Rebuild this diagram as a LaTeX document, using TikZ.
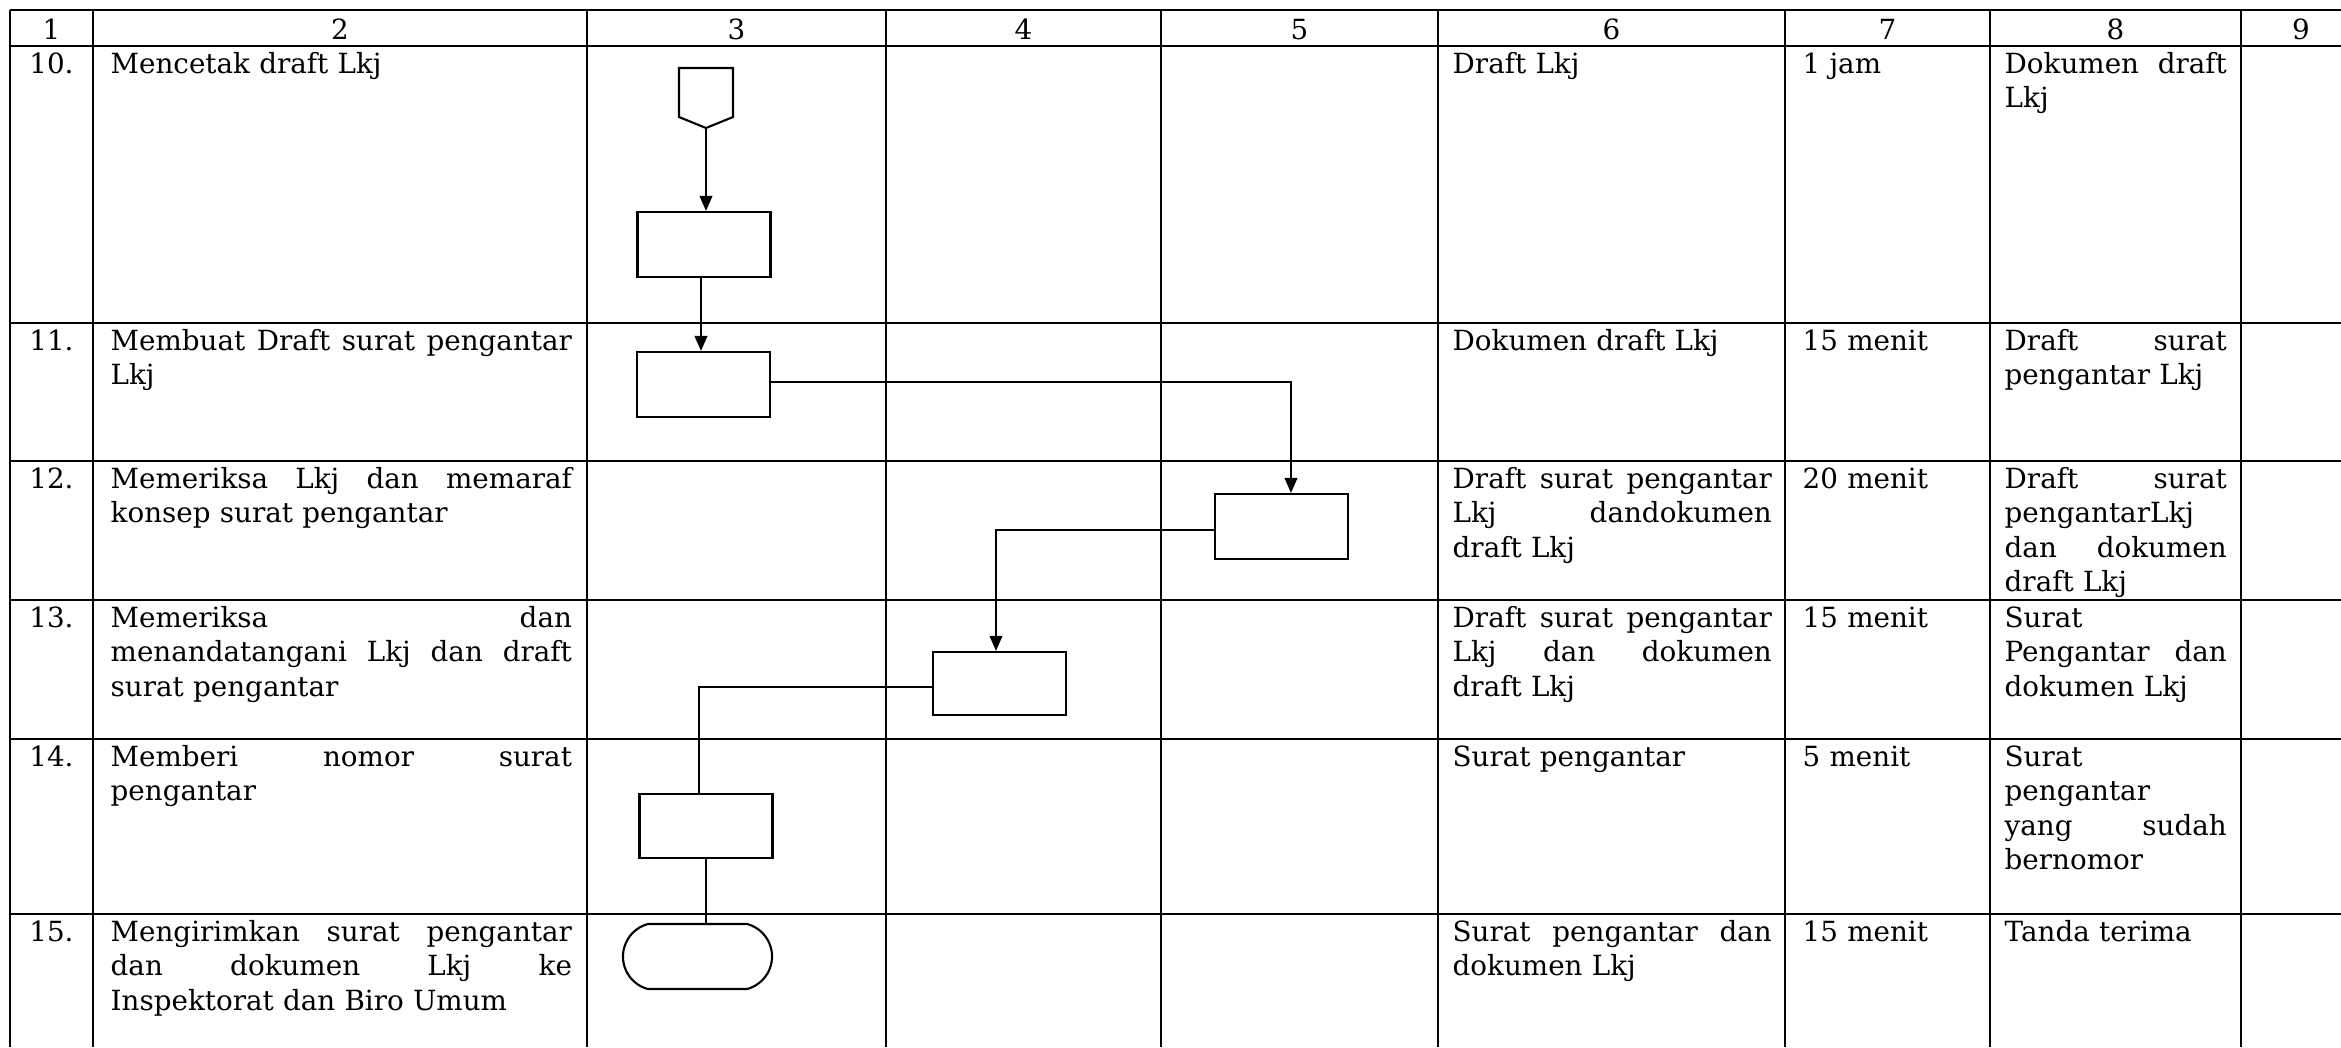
\documentclass[tikz,border=0pt]{standalone}
\usepackage{fontspec}
\setmainfont{DejaVu Serif}
\usetikzlibrary{arrows.meta,shapes.misc}
\newcommand\fs{\fontsize{7.9pt}{9.82pt}\selectfont}
\newcommand\jl[2]{\makebox[#1][s]{#2}}
\newcommand\ja[1]{\jl{4.61cm}{#1}}
\newcommand\jf[1]{\jl{3.19cm}{#1}}
\newcommand\jh[1]{\jl{2.22cm}{#1}}
\newcommand\wsp{ \hfill}
\begin{document}
\begin{tikzpicture}[x=0.01cm,y=-0.01cm,
  grid/.style={line width=0.6pt},
  flow/.style={line width=0.6pt},
  proc/.style={draw, flow, minimum width=1.33cm, minimum height=0.65cm, inner sep=0pt},
  arr/.style={flow, -{Triangle[length=4.3pt,width=3.6pt]}},
  cell/.style={anchor=base west, inner sep=0pt, align=left, font=\fs},
  num/.style={anchor=base, inner sep=0pt, font=\fs}]
\useasboundingbox (0,0) rectangle (2341,1047);
\fill[white] (0,0) rectangle (2341,1047);
% table grid
\foreach \y in {10,46,323,461,600,739,914} \draw[grid] (10,\y) -- (2341,\y);
\foreach \x in {10,93,587,886,1161,1438,1785,1990,2241} \draw[grid] (\x,10) -- (\x,1047);
% header
\node[num] (h1) at (51.5,39) {1};
\node[num] (h2) at (340,39) {2};
\node[num] (h3) at (736.5,39) {3};
\node[num] (h4) at (1023.5,39) {4};
\node[num] (h5) at (1299.5,39) {5};
\node[num] (h6) at (1611.5,39) {6};
\node[num] (h7) at (1887.5,39) {7};
\node[num] (h8) at (2115.5,39) {8};
\node[num] (h9) at (2301,39) {9};
% row numbers
\node[num] (n10) at (51.5,73) {10.};
\node[num] (n11) at (51.5,350) {11.};
\node[num] (n12) at (51.5,488) {12.};
\node[num] (n13) at (51.5,627) {13.};
\node[num] (n14) at (51.5,766) {14.};
\node[num] (n15) at (51.5,941) {15.};
% column 2
\node[cell, text width=4.61cm] (a10) at (110,73) {Mencetak draft Lkj};
\node[cell, text width=4.61cm] (a11) at (110,350) {\ja{Membuat\wsp Draft\wsp surat\wsp pengantar}\\Lkj};
\node[cell, text width=4.61cm] (a12) at (110,488) {\ja{Memeriksa\wsp Lkj\wsp dan\wsp memaraf}\\konsep surat pengantar};
\node[cell, text width=4.61cm] (a13) at (110,627) {\ja{Memeriksa\wsp dan}\\\ja{menandatangani\wsp Lkj\wsp dan\wsp draft}\\surat pengantar};
\node[cell, text width=4.61cm] (a14) at (110,766) {\ja{Memberi\wsp nomor\wsp surat}\\pengantar};
\node[cell, text width=4.61cm] (a15) at (110,941) {\ja{Mengirimkan\wsp surat\wsp pengantar}\\\ja{dan\wsp dokumen\wsp Lkj\wsp ke}\\Inspektorat dan Biro Umum};
% column 6
\node[cell, text width=3.19cm] (f10) at (1452,73) {Draft Lkj};
\node[cell, text width=3.19cm] (f11) at (1452,350) {Dokumen draft Lkj};
\node[cell, text width=3.19cm] (f12) at (1452,488) {\jf{Draft\wsp surat\wsp pengantar}\\\jf{Lkj\wsp dandokumen}\\draft Lkj};
\node[cell, text width=3.19cm] (f13) at (1452,627) {\jf{Draft\wsp surat\wsp pengantar}\\\jf{Lkj\wsp dan\wsp dokumen}\\draft Lkj};
\node[cell, text width=3.19cm] (f14) at (1452,766) {Surat pengantar};
\node[cell, text width=3.19cm] (f15) at (1452,941) {\jf{Surat\wsp pengantar\wsp dan}\\dokumen Lkj};
% column 7
\node[cell, text width=1.8cm] (g10) at (1802,73) {1 jam};
\node[cell, text width=1.8cm] (g11) at (1802,350) {15 menit};
\node[cell, text width=1.8cm] (g12) at (1802,488) {20 menit};
\node[cell, text width=1.8cm] (g13) at (1802,627) {15 menit};
\node[cell, text width=1.8cm] (g14) at (1802,766) {5 menit};
\node[cell, text width=1.8cm] (g15) at (1802,941) {15 menit};
% column 8
\node[cell, text width=2.22cm] (k10) at (2004,73) {\jh{Dokumen\wsp draft}\\Lkj};
\node[cell, text width=2.22cm] (k11) at (2004,350) {\jh{Draft\wsp surat}\\pengantar Lkj};
\node[cell, text width=2.22cm] (k12) at (2004,488) {\jh{Draft\wsp surat}\\pengantarLkj\\\jh{dan\wsp dokumen}\\draft Lkj};
\node[cell, text width=2.22cm] (k13) at (2004,627) {Surat\\\jh{Pengantar\wsp dan}\\dokumen Lkj};
\node[cell, text width=2.22cm] (k14) at (2004,766) {Surat\\pengantar\\\jh{yang\wsp sudah}\\bernomor};
\node[cell, text width=2.22cm] (k15) at (2004,941) {Tanda terima};
% flowchart
\draw[flow, line join=miter] (679,68) -- (733,68) -- (733,117) -- (706,128) -- (679,117) -- cycle;
\coordinate (optip) at (706,128);
\node[proc] (b1) at (704,244.5) {};
\node[proc] (b2) at (703.5,384.5) {};
\node[proc] (b3) at (1281.5,526.5) {};
\node[proc, minimum height=0.63cm] (b4) at (999.5,683.5) {};
\node[proc, minimum height=0.64cm] (b5) at (706,826) {};
\node[draw, flow, rounded rectangle, rounded rectangle arc length=150, minimum width=1.49cm, minimum height=0.65cm, inner sep=0pt] (term) at (697.5,956.5) {};
\draw[arr] (optip) -- (optip |- b1.north);
\draw[arr] ([xshift=-0.03cm]b1.south) -- ([xshift=-0.03cm]b1.south |- b2.north);
\draw[arr] ([yshift=0.025cm]b2.east) -| ([xshift=0.095cm]b3.north);
\draw[arr] ([yshift=-0.035cm]b3.west) -| ([xshift=-0.035cm]b4.north);
\draw[flow] ([yshift=-0.035cm]b4.west) -| ([xshift=-0.07cm]b5.north);
\draw[flow] (b5.south) -- (b5.south |- term.north);
\end{tikzpicture}
\end{document}
